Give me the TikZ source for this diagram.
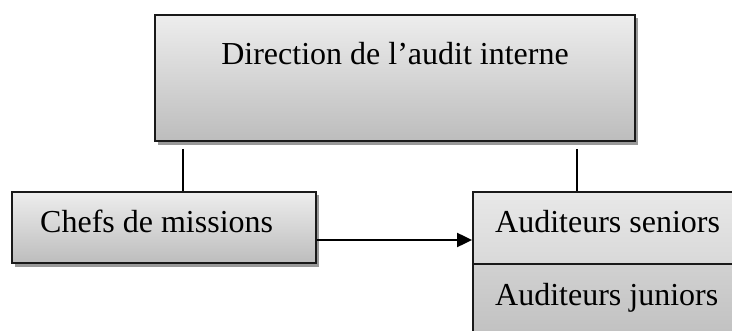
\documentclass[tikz,border=0pt]{standalone}
\usepackage{fontspec}
\setmainfont{Liberation Serif}
\usetikzlibrary{arrows.meta,calc}
\begin{document}
\begin{tikzpicture}[x=1pt,y=-1pt,
  box/.style={draw=black!90,line width=1.8pt,rectangle,inner sep=0pt,top color=black!7,bottom color=black!26},
  shadowbox/.style={fill=black!40,draw=none,rectangle,inner sep=0pt},
  lbl/.style={anchor=base west,inner sep=0pt,font=\fontsize{32}{38}\selectfont},
  conn/.style={line width=1.4pt,draw=black}]
\useasboundingbox (0,0) rectangle (732,331);
\clip (0,0) rectangle (732,331);
% shadows
\fill[black!40] (158,18) rectangle (638,145);
\fill[black!40] (15,195) rectangle (319,267);
% boxes
\node[box,minimum width=480pt,minimum height=126pt] (dir) at (395,78) {};
\node[box,minimum width=304pt,minimum height=71pt] (chefs) at (164,227.5) {};
\node[box,minimum width=300pt,minimum height=72pt,top color=black!9,bottom color=black!15] (sen) at (623,228) {};
\node[box,minimum width=300pt,minimum height=90pt,top color=black!18,bottom color=black!26] (jun) at (623,309) {};
% texts
\node[lbl,anchor=base] (tdir) at (395,65) {Direction de l’audit interne};
\node[lbl] (tchefs) at (40,233) {Chefs de missions};
\node[lbl] (tsen) at (495,233) {Auditeurs seniors};
\node[lbl] (tjun) at (495,306) {Auditeurs juniors};
% connectors
\coordinate (l1) at (183,149);
\coordinate (l2) at (577,149);
\coordinate (a) at (0,240);
\draw[conn] (l1) -- (l1 |- chefs.north);
\draw[conn] (l2) -- (l2 |- sen.north);
\draw[conn,line width=2pt,-{Triangle[length=15pt,width=14pt]}] (chefs.east |- a) -- (sen.west |- a);
\end{tikzpicture}
\end{document}
